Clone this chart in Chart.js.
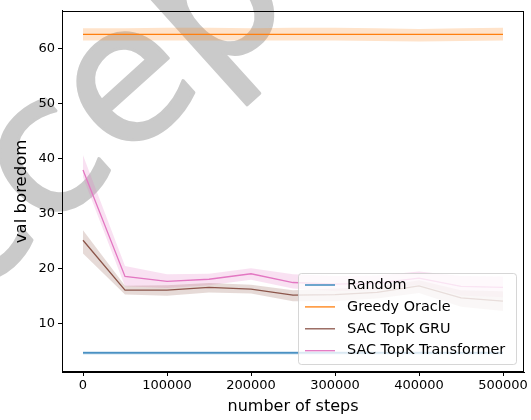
<!DOCTYPE html>
<html>
<head>
<meta charset="utf-8">
<script src="https://cdn.jsdelivr.net/npm/chart.js@4.4.1/dist/chart.umd.min.js"></script>
<style>
  html, body { margin: 0; padding: 0; background: #fff; }
  #wrap { width: 531px; height: 420px; }
</style>
</head>
<body>
<div id="wrap"><canvas id="myChart" width="531" height="420"></canvas></div>
<script>
// training steps on the x axis
const steps = [0, 50000, 100000, 150000, 200000, 250000, 300000, 350000, 400000, 450000, 500000];
const xTicks = [0, 100000, 200000, 300000, 400000, 500000];
const yTicks = [10, 20, 30, 40, 50, 60];

// mean and band (lower / upper) per method
const randomMean  = [4.6, 4.6, 4.6, 4.6, 4.6, 4.6, 4.6, 4.6, 4.6, 4.6, 4.6];
const randomLow   = [4.3, 4.3, 4.3, 4.3, 4.3, 4.3, 4.3, 4.3, 4.3, 4.3, 4.3];
const randomHigh  = [4.9, 4.9, 4.9, 4.9, 4.9, 4.9, 4.9, 4.9, 4.9, 4.9, 4.9];

const greedyMean  = [62.6, 62.6, 62.6, 62.6, 62.6, 62.6, 62.6, 62.6, 62.6, 62.6, 62.6];
const greedyLow   = [61.5, 61.5, 61.5, 61.5, 61.5, 61.5, 61.5, 61.4, 61.3, 61.4, 61.5];
const greedyHigh  = [63.7, 63.7, 63.8, 63.8, 63.7, 63.8, 63.8, 63.7, 63.6, 63.7, 63.8];

const gruMean     = [25.1, 16.0, 16.0, 16.5, 16.2, 15.1, 15.2, 15.6, 16.8, 14.6, 14.0];
const gruLow      = [22.7, 15.2, 15.0, 15.6, 15.4, 14.0, 14.0, 14.5, 15.5, 13.0, 12.2];
const gruHigh     = [26.9, 16.8, 16.9, 17.3, 17.0, 16.0, 16.3, 16.6, 17.8, 16.0, 15.8];

const transMean   = [37.9, 18.5, 17.6, 18.0, 19.0, 17.4, 17.1, 17.3, 18.2, 16.7, 16.5];
const transLow    = [36.6, 16.7, 16.4, 16.9, 17.9, 16.3, 15.8, 16.0, 17.0, 15.0, 14.7];
const transHigh   = [40.6, 20.4, 18.9, 19.0, 20.0, 18.9, 18.6, 18.7, 19.4, 18.6, 18.5];

const series = [
    { label: 'Random', mean: randomMean, low: randomLow, high: randomHigh, rgb: '31,119,180' },
    { label: 'Greedy Oracle', mean: greedyMean, low: greedyLow, high: greedyHigh, rgb: '255,127,14' },
    { label: 'SAC TopK GRU', mean: gruMean, low: gruLow, high: gruHigh, rgb: '140,86,75' },
    { label: 'SAC TopK Transformer', mean: transMean, low: transLow, high: transHigh, rgb: '227,119,194' }
];

const toPoints = arr => arr.map((v, i) => ({ x: steps[i], y: v }));

// mean lines first so they sit on top, bands afterwards
const datasets = [];
series.forEach(s => {
    datasets.push({
        label: s.label,
        data: toPoints(s.mean),
        borderColor: `rgb(${s.rgb})`,
        borderWidth: 1.3,
        pointRadius: 0,
        fill: false,
        tension: 0
    });
});
series.forEach(s => {
    datasets.push({
        label: s.label + ' high',
        band: true,
        data: toPoints(s.high),
        borderWidth: 0,
        pointRadius: 0,
        backgroundColor: `rgba(${s.rgb},0.22)`,
        fill: '+1',
        tension: 0
    });
    datasets.push({
        label: s.label + ' low',
        band: true,
        data: toPoints(s.low),
        borderWidth: 0,
        pointRadius: 0,
        fill: false,
        tension: 0
    });
});

const FONT = "'DejaVu Sans', sans-serif";

// big gray stamp behind the plot
const stampPlugin = {
    id: 'stamp',
    beforeDraw(chart) {
        const ctx = chart.ctx;
        const size = 190;
        ctx.save();
        ctx.fillStyle = 'rgb(202,202,202)';
        ctx.strokeStyle = 'rgb(202,202,202)';
        ctx.lineWidth = 3;
        ctx.lineJoin = 'round';
        ctx.font = size + 'px ' + FONT;
        const word = 'Accepted';
        const before = ctx.measureText('Acc').width;
        const eW = ctx.measureText('e').width;
        ctx.translate(130, 88);
        ctx.rotate(-42 * Math.PI / 180);
        const x0 = -before - eW / 2, y0 = size * 0.27;
        ctx.fillText(word, x0, y0);
        ctx.strokeText(word, x0, y0);
        ctx.restore();
    }
};

// axes frame on all four sides
const framePlugin = {
    id: 'frame',
    afterDatasetsDraw(chart) {
        const { ctx, chartArea: a } = chart;
        ctx.save();
        ctx.strokeStyle = '#000';
        ctx.lineWidth = 1;
        ctx.strokeRect(Math.round(a.left) + 0.5, Math.round(a.top) + 0.5,
            Math.round(a.right - a.left) - 1, Math.round(a.bottom - a.top) - 1);
        ctx.restore();
    }
};

// legend box in the lower right corner
const legendPlugin = {
    id: 'boxLegend',
    afterDraw(chart) {
        const ctx = chart.ctx;
        const items = chart.data.datasets.filter(d => !d.band);
        const x = 298, y = 273, w = 218, h = 91, r = 3;
        ctx.save();
        ctx.beginPath();
        ctx.roundRect(x + 0.5, y + 0.5, w, h, r);
        ctx.fillStyle = 'rgba(255,255,255,0.8)';
        ctx.fill();
        ctx.strokeStyle = 'rgba(204,204,204,0.8)';
        ctx.lineWidth = 1;
        ctx.stroke();
        ctx.font = '14.4px ' + FONT;
        ctx.textBaseline = 'middle';
        ctx.fillStyle = '#000';
        items.forEach((d, i) => {
            const cy = 285 + i * 21.9;
            ctx.beginPath();
            ctx.moveTo(305, cy);
            ctx.lineTo(335, cy);
            ctx.strokeStyle = d.borderColor;
            ctx.lineWidth = 1.3;
            ctx.stroke();
            ctx.fillText(d.label, 347, cy);
        });
        ctx.restore();
    }
};

new Chart(document.getElementById('myChart'), {
    type: 'line',
    data: { datasets },
    plugins: [stampPlugin, framePlugin, legendPlugin],
    options: {
        responsive: false,
        animation: false,
        layout: { padding: { left: 0, right: 7, top: 5, bottom: 0 } },
        plugins: {
            legend: { display: false },
            tooltip: { enabled: false }
        },
        scales: {
            x: {
                type: 'linear',
                min: -25000,
                max: 525000,
                afterBuildTicks: scale => { scale.ticks = xTicks.map(v => ({ value: v })); },
                afterFit: scale => { scale.height = 48; },
                grid: { drawOnChartArea: false, drawTicks: true, tickLength: 4, color: '#000' },
                border: { display: true, color: '#000', width: 1 },
                ticks: { color: '#000', font: { family: FONT, size: 13 }, padding: 2, maxRotation: 0, callback: v => String(v) },
                title: { display: true, text: 'number of steps', color: '#000', font: { family: FONT, size: 16 }, padding: { top: 1 } }
            },
            y: {
                min: 1.1,
                max: 66.9,
                afterBuildTicks: scale => { scale.ticks = yTicks.map(v => ({ value: v })); },
                afterFit: scale => { scale.width = 62; },
                grid: { drawOnChartArea: false, drawTicks: true, tickLength: 4, color: '#000' },
                border: { display: true, color: '#000', width: 1 },
                ticks: { color: '#000', font: { family: FONT, size: 13 }, padding: 3, callback: v => String(v) },
                title: { display: true, text: 'val boredom', color: '#000', font: { family: FONT, size: 16.5 }, padding: { top: 12, bottom: 0 } }
            }
        }
    }
});
</script>
</body>
</html>
